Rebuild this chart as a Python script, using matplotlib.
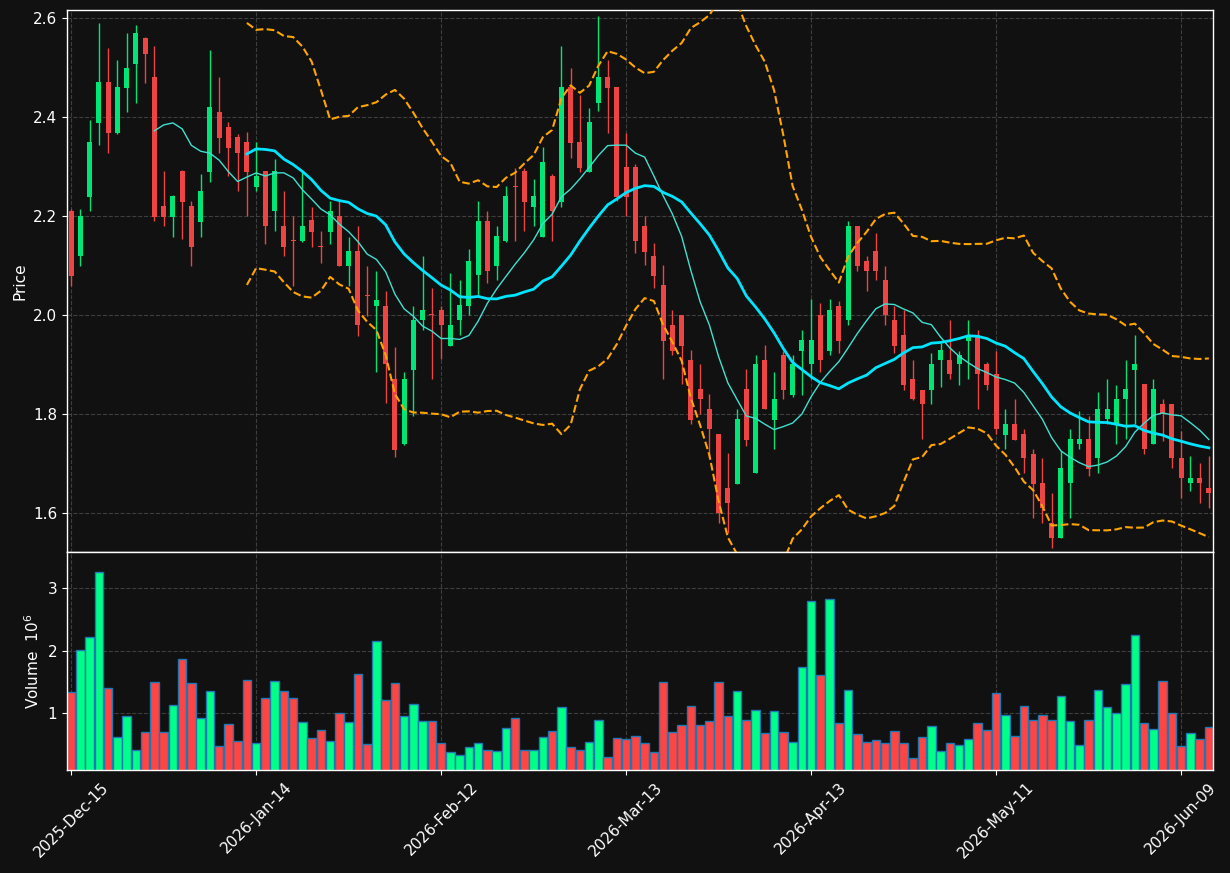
import numpy as np
import pandas as pd
import matplotlib
matplotlib.use('Agg')
import matplotlib.pyplot as plt

# ── 日线数据───────────────────────────────────────────
opens = [2.211, 2.119, 2.240, 2.389, 2.472, 2.369, 2.460, 2.508, 2.560, 2.481,
         2.221, 2.199, 2.292, 2.221, 2.189, 2.290, 2.411, 2.380, 2.361, 2.350,
         2.260, 2.292, 2.210, 2.181, 2.151, 2.150, 2.192, 2.140, 2.169, 2.201,
         2.100, 2.131, 2.041, 2.020, 2.020, 1.871, 1.740, 1.890, 1.990, 2.001,
         2.011, 1.939, 1.990, 2.020, 2.081, 2.191, 2.100, 2.150, 2.262, 2.292,
         2.220, 2.159, 2.281, 2.230, 2.461, 2.350, 2.290, 2.429, 2.481, 2.461,
         2.300, 2.300, 2.181, 2.120, 2.062, 1.981, 2.001, 1.910, 1.852, 1.811,
         1.761, 1.652, 1.660, 1.852, 1.681, 1.910, 1.789, 1.920, 1.840, 1.929,
         1.901, 2.001, 1.929, 2.020, 1.990, 2.181, 2.110, 2.131, 2.072, 1.990,
         1.960, 1.871, 1.850, 1.850, 1.909, 1.910, 1.901, 1.949, 1.960, 1.902,
         1.881, 1.759, 1.780, 1.761, 1.720, 1.661, 1.580, 1.550, 1.661, 1.740,
         1.751, 1.712, 1.790, 1.780, 1.831, 1.890, 1.861, 1.740, 1.820, 1.821,
         1.712, 1.661, 1.672, 1.651]
highs = [2.215, 2.214, 2.394, 2.590, 2.540, 2.515, 2.570, 2.586, 2.562, 2.545,
         2.292, 2.243, 2.294, 2.231, 2.285, 2.536, 2.481, 2.390, 2.366, 2.371,
         2.350, 2.292, 2.315, 2.251, 2.200, 2.292, 2.220, 2.170, 2.231, 2.231,
         2.159, 2.180, 2.100, 2.090, 2.050, 1.936, 1.886, 2.020, 2.120, 2.055,
         2.020, 2.085, 2.071, 2.135, 2.231, 2.211, 2.180, 2.261, 2.298, 2.298,
         2.275, 2.340, 2.286, 2.545, 2.499, 2.445, 2.420, 2.604, 2.515, 2.461,
         2.369, 2.305, 2.200, 2.147, 2.101, 2.010, 2.001, 1.930, 1.901, 1.841,
         1.761, 1.721, 1.810, 1.892, 1.920, 1.940, 1.886, 1.929, 1.920, 1.970,
         2.034, 2.025, 2.034, 2.030, 2.191, 2.181, 2.120, 2.166, 2.100, 2.020,
         2.011, 1.910, 1.850, 1.925, 1.945, 1.990, 1.929, 1.990, 1.970, 1.905,
         1.929, 1.810, 1.831, 1.770, 1.730, 1.712, 1.641, 1.726, 1.770, 1.806,
         1.796, 1.845, 1.871, 1.860, 1.910, 1.960, 1.862, 1.871, 1.831, 1.821,
         1.766, 1.716, 1.701, 1.716]
lows = [2.059, 2.100, 2.210, 2.345, 2.329, 2.366, 2.410, 2.429, 2.470, 2.191,
        2.180, 2.159, 2.155, 2.100, 2.159, 2.270, 2.329, 2.281, 2.251, 2.200,
        2.251, 2.145, 2.170, 2.119, 2.060, 2.149, 2.139, 2.105, 2.145, 2.099,
        2.060, 1.959, 1.999, 1.886, 1.824, 1.714, 1.738, 1.796, 1.971, 1.871,
        1.912, 1.938, 1.960, 2.001, 2.041, 2.066, 2.071, 2.149, 2.150, 2.170,
        2.180, 2.158, 2.150, 2.220, 2.319, 2.290, 2.289, 2.413, 2.369, 2.231,
        2.200, 2.126, 2.101, 2.055, 1.871, 1.919, 1.861, 1.780, 1.801, 1.712,
        1.580, 1.561, 1.660, 1.736, 1.681, 1.810, 1.730, 1.831, 1.836, 1.840,
        1.871, 1.886, 1.919, 1.925, 1.980, 2.090, 2.050, 2.071, 1.980, 1.925,
        1.850, 1.830, 1.750, 1.820, 1.855, 1.871, 1.860, 1.871, 1.810, 1.850,
        1.761, 1.730, 1.748, 1.681, 1.591, 1.580, 1.530, 1.550, 1.591, 1.730,
        1.676, 1.681, 1.780, 1.740, 1.750, 1.780, 1.720, 1.740, 1.747, 1.692,
        1.631, 1.645, 1.620, 1.611]
closes = [2.080, 2.200, 2.350, 2.472, 2.369, 2.461, 2.500, 2.570, 2.528, 2.199,
          2.199, 2.241, 2.230, 2.138, 2.251, 2.421, 2.359, 2.338, 2.329, 2.290,
          2.281, 2.180, 2.292, 2.139, 2.150, 2.181, 2.169, 2.139, 2.211, 2.100,
          2.130, 1.980, 2.040, 2.031, 1.901, 1.729, 1.871, 1.990, 2.011, 2.000,
          1.980, 1.981, 2.021, 2.110, 2.191, 2.090, 2.161, 2.241, 2.260, 2.230,
          2.241, 2.310, 2.210, 2.461, 2.348, 2.298, 2.391, 2.481, 2.460, 2.240,
          2.240, 2.150, 2.129, 2.080, 1.949, 1.929, 1.939, 1.789, 1.831, 1.770,
          1.600, 1.620, 1.791, 1.749, 1.902, 1.810, 1.831, 1.850, 1.902, 1.951,
          1.951, 1.909, 2.011, 1.949, 2.181, 2.100, 2.090, 2.090, 2.000, 1.939,
          1.860, 1.831, 1.820, 1.902, 1.930, 1.881, 1.920, 1.960, 1.881, 1.860,
          1.770, 1.780, 1.749, 1.712, 1.660, 1.610, 1.550, 1.692, 1.751, 1.751,
          1.690, 1.811, 1.811, 1.831, 1.852, 1.902, 1.730, 1.852, 1.800, 1.712,
          1.671, 1.672, 1.661, 1.641]
# 成交量，单位 10^6
volumes = [1.339, 2.016, 2.226, 3.258, 1.403, 0.613, 0.952, 0.403, 0.694, 1.500,
           0.694, 1.129, 1.871, 1.484, 0.919, 1.355, 0.468, 0.823, 0.548, 1.532,
           0.516, 1.242, 1.516, 1.355, 1.242, 0.855, 0.597, 0.726, 0.548, 1.000,
           0.855, 1.629, 0.500, 2.161, 1.210, 1.484, 0.952, 1.145, 0.871, 0.871,
           0.516, 0.371, 0.323, 0.452, 0.516, 0.403, 0.387, 0.758, 0.919, 0.403,
           0.403, 0.613, 0.710, 1.097, 0.452, 0.403, 0.532, 0.887, 0.290, 0.597,
           0.581, 0.629, 0.516, 0.371, 1.500, 0.694, 0.806, 1.113, 0.806, 0.871,
           1.500, 0.952, 1.355, 0.887, 1.048, 0.677, 1.032, 0.694, 0.532, 1.742,
           2.790, 1.613, 2.823, 0.839, 1.371, 0.661, 0.532, 0.565, 0.516, 0.710,
           0.516, 0.274, 0.613, 0.790, 0.387, 0.516, 0.484, 0.581, 0.839, 0.726,
           1.323, 0.968, 0.629, 1.113, 0.887, 0.968, 0.887, 1.274, 0.871, 0.484,
           0.887, 1.371, 1.097, 1.000, 1.468, 2.258, 0.839, 0.742, 1.516, 1.000,
           0.468, 0.677, 0.581, 0.774]

# 交易日（美股休市日除外）
holidays = ['2025-12-25', '2026-01-01', '2026-01-19', '2026-02-16', '2026-04-03', '2026-05-25']
dates = pd.bdate_range('2025-12-15', '2026-06-12', freq='C', holidays=holidays)

df = pd.DataFrame({'Open': opens, 'High': highs, 'Low': lows,
                   'Close': closes, 'Volume': volumes}, index=dates)

# ── 指标 ─────────────────────────────────────────────────
ma10 = df['Close'].rolling(10).mean()
ma20 = df['Close'].rolling(20).mean()
std20 = df['Close'].rolling(20).std(ddof=0)
bb_up = ma20 + 2 * std20
bb_dn = ma20 - 2 * std20

BG = '#111111'
UP, DOWN = '#00e676', '#ef4444'
VUP, VDOWN = '#00ff88', '#ff4444'

x = np.arange(len(df))
is_up = (df['Close'] >= df['Open']).values
c_colors = np.where(is_up, UP, DOWN)
v_colors = np.where(is_up, VUP, VDOWN)

fig = plt.figure(figsize=(12.3, 8.73), dpi=100, facecolor=BG)
W, H = 1230, 873
ax = fig.add_axes([67 / W, (H - 552) / H, 1146 / W, 542 / H])
ax_v = fig.add_axes([67 / W, (H - 770) / H, 1146 / W, 218 / H], sharex=ax)

for a in (ax, ax_v):
    a.set_facecolor(BG)
    for s in a.spines.values():
        s.set_color('white')
        s.set_linewidth(1.0)
    a.tick_params(colors='white', labelsize=11)
    a.grid(True, color='#4a4a4a', linestyle='--', linewidth=0.8, alpha=0.8)
    a.set_axisbelow(True)

# K线
body_lo = np.minimum(df['Open'], df['Close'])
body_h = np.maximum(np.abs(df['Close'] - df['Open']), 0.002)
ax.vlines(x, df['Low'], df['High'], colors=c_colors, linewidth=1.0, zorder=2)
ax.bar(x, body_h, bottom=body_lo, width=0.55, color=c_colors, linewidth=0, zorder=3)

# 均线 + 布林带
ax.plot(x, ma10, color='#40e0d0', linewidth=1.0, zorder=4)
ax.plot(x, ma20, color='#00e5ff', linewidth=2.0, zorder=4)
ax.plot(x, bb_up, color='#ffa500', linewidth=1.5, linestyle='--', zorder=4)
ax.plot(x, bb_dn, color='#ffa500', linewidth=1.5, linestyle='--', zorder=4)

ax.set_ylim(1.522, 2.617)
ax.set_yticks([1.6, 1.8, 2.0, 2.2, 2.4, 2.6])
ax.set_ylabel('Price', color='white', fontsize=11)
ax.tick_params(axis='x', labelbottom=False, length=0)

# 成交量
ax_v.bar(x, df['Volume'], width=0.9, color=v_colors, edgecolor='#1f77b4', linewidth=1.0)
vmin, vmax = df['Volume'].min(), df['Volume'].max()
ax_v.set_ylim(0.3 * vmin, 1.1 * vmax)
ax_v.set_yticks([1, 2, 3])
ax_v.set_ylabel('Volume  $10^{6}$', color='white', fontsize=11)

ax_v.set_xlim(-0.45, len(df) - 1 + 0.45)
tick_idx = x[::20]
ax_v.set_xticks(tick_idx)
ax_v.set_xticklabels([d.strftime('%Y-%b-%d') for d in dates[::20]], rotation=45, ha='center')

fig.savefig('out.png', dpi=100, facecolor=BG)
